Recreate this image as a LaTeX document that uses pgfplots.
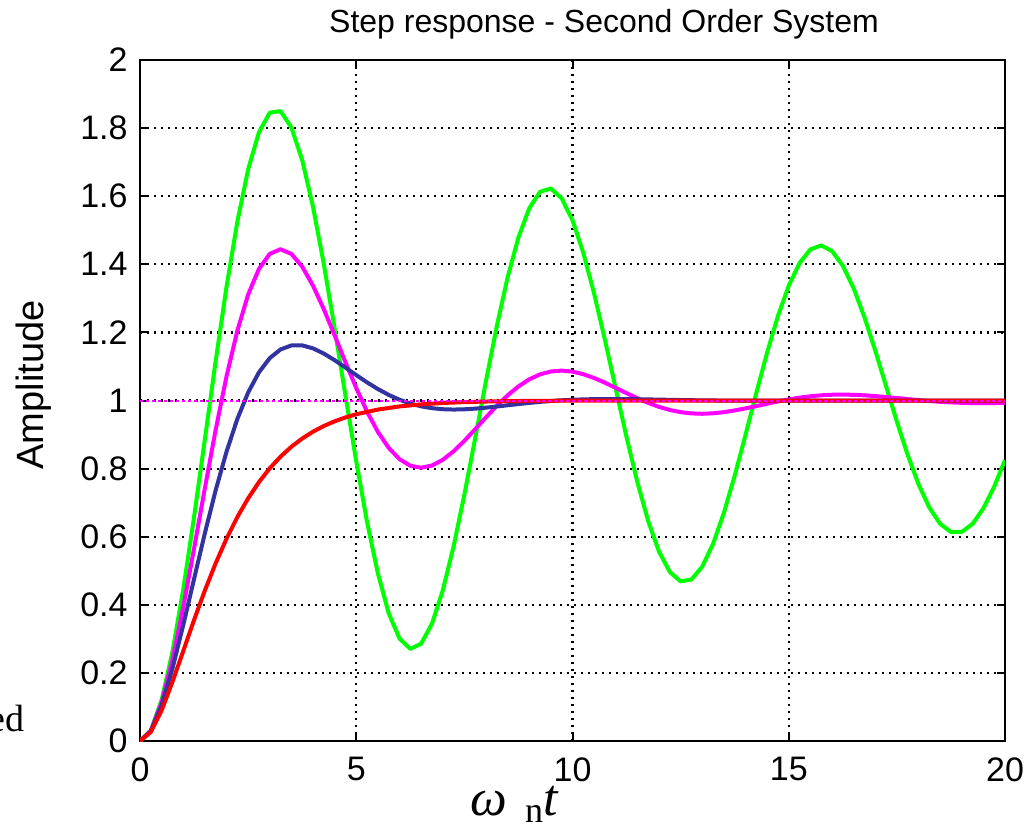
\documentclass[border=0pt]{standalone}
\usepackage{pgfplots}
\pgfplotsset{compat=1.18}
\usepackage{fontspec}
\setmainfont{Liberation Sans}
\newfontfamily\seriffont{Liberation Serif}
\definecolor{mgreen}{RGB}{0,255,0}
\definecolor{mmag}{RGB}{255,0,255}
\definecolor{mblue}{RGB}{50,50,160}
\definecolor{mred}{RGB}{255,0,0}
\begin{document}
\begin{tikzpicture}
\path[use as bounding box] (0pt,0pt) rectangle (516pt,413pt);
\begin{axis}[
  at={(70pt,42.5pt)}, anchor=south west,
  scale only axis, width=432.5pt, height=340.5pt,
  xmin=0, xmax=20, ymin=0, ymax=2,
  xtick={0,5,10,15,20},
  ytick={0,0.2,0.4,0.6,0.8,1,1.2,1.4,1.6,1.8,2},
  grid=major,
  major grid style={black, line width=1.1pt, dash pattern=on 1.1pt off 2.4pt},
  axis line style={black, line width=1.2pt},
  tick style={black, line width=1pt},
  tick align=inside, major tick length=4pt,
  ticklabel style={font=\fontsize{17}{20}\selectfont},
  /pgf/number format/assume math mode=true,
  yticklabel style={inner sep=0pt, xshift=-6pt},
  xticklabel style={inner sep=0pt, yshift=-8pt},
  every axis plot/.append style={line width=2pt, line join=round},
]
\addplot[mgreen] coordinates {(0,0) (0.25,0.0308) (0.5,0.1204) (0.75,0.2618) (1,0.4450) (1.25,0.6578) (1.5,0.8863) (1.75,1.1162) (2,1.3332) (2.25,1.5245) (2.5,1.6788) (2.75,1.7876) (3,1.8454) (3.25,1.8498) (3.5,1.8020) (3.75,1.7061) (4,1.5691) (4.25,1.4007) (4.5,1.2117) (4.75,1.0145) (5,0.8212) (5.25,0.6431) (5.5,0.4924) (5.75,0.3754) (6,0.3009) (6.25,0.2705) (6.5,0.2857) (6.75,0.3443) (7,0.4418) (7.25,0.5711) (7.5,0.7236) (7.75,0.8892) (8,1.0576) (8.25,1.2183) (8.5,1.3618) (8.75,1.4792) (9,1.5645) (9.25,1.6130) (9.5,1.6226) (9.75,1.5938) (10,1.5292) (10.25,1.4337) (10.5,1.3140) (10.75,1.1779) (11,1.0343) (11.25,0.8921) (11.5,0.7600) (11.75,0.6460) (12,0.5564) (12.25,0.4964) (12.5,0.4687) (12.75,0.4744) (13,0.5122) (13.25,0.5790) (13.5,0.6700) (13.75,0.7790) (14,0.8989) (14.25,1.0221) (14.5,1.1408) (14.75,1.2480) (15,1.3372) (15.25,1.4037) (15.5,1.4437) (15.75,1.4554) (16,1.4389) (16.25,1.3958) (16.5,1.3295) (16.75,1.2446) (17,1.1468) (17.25,1.0423) (17.5,0.9379) (17.75,0.8399) (18,0.7541) (18.25,0.6855) (18.5,0.6379) (18.75,0.6138) (19,0.6139) (19.25,0.6378) (19.5,0.6833) (19.75,0.7471) (20,0.8249)};
\addplot[mmag] coordinates {(0,0) (0.25,0.0298) (0.5,0.1129) (0.75,0.2380) (1,0.3929) (1.25,0.5652) (1.5,0.7426) (1.75,0.9142) (2,1.0706) (2.25,1.2046) (2.5,1.3109) (2.75,1.3864) (3,1.4306) (3.25,1.4443) (3.5,1.4305) (3.75,1.3932) (4,1.3372) (4.25,1.2682) (4.5,1.1915) (4.75,1.1127) (5,1.0366) (5.25,0.9672) (5.5,0.9079) (5.75,0.8610) (6,0.8277) (6.25,0.8084) (6.5,0.8026) (6.75,0.8090) (7,0.8258) (7.25,0.8508) (7.5,0.8816) (7.75,0.9157) (8,0.9507) (8.25,0.9845) (8.5,1.0152) (8.75,1.0414) (9,1.0622) (9.25,1.0768) (9.5,1.0852) (9.75,1.0877) (10,1.0848) (10.25,1.0772) (10.5,1.0660) (10.75,1.0523) (11,1.0371) (11.25,1.0216) (11.5,1.0066) (11.75,0.9930) (12,0.9814) (12.25,0.9722) (12.5,0.9658) (12.75,0.9621) (13,0.9610) (13.25,0.9624) (13.5,0.9658) (13.75,0.9708) (14,0.9769) (14.25,0.9836) (14.5,0.9906) (14.75,0.9972) (15,1.0032) (15.25,1.0084) (15.5,1.0124) (15.75,1.0153) (16,1.0169) (16.25,1.0173) (16.5,1.0167) (16.75,1.0152) (17,1.0129) (17.25,1.0102) (17.5,1.0072) (17.75,1.0041) (18,1.0012) (18.25,0.9985) (18.5,0.9962) (18.75,0.9944) (19,0.9932) (19.25,0.9925) (19.5,0.9923) (19.75,0.9926) (20,0.9933)};
\addplot[mblue] coordinates {(0,0) (0.25,0.0287) (0.5,0.1044) (0.75,0.2127) (1,0.3403) (1.25,0.4760) (1.5,0.6105) (1.75,0.7367) (2,0.8494) (2.25,0.9455) (2.5,1.0234) (2.75,1.0827) (3,1.1245) (3.25,1.1500) (3.5,1.1617) (3.75,1.1619) (4,1.1531) (4.25,1.1379) (4.5,1.1184) (4.75,1.0968) (5,1.0746) (5.25,1.0532) (5.5,1.0336) (5.75,1.0165) (6,1.0023) (6.25,0.9911) (6.5,0.9828) (6.75,0.9774) (7,0.9744) (7.25,0.9734) (7.5,0.9742) (7.75,0.9761) (8,0.9790) (8.25,0.9824) (8.5,0.9860) (8.75,0.9896) (9,0.9929) (9.25,0.9959) (9.5,0.9985) (9.75,1.0006) (10,1.0022) (10.25,1.0033) (10.5,1.0040) (10.75,1.0043) (11,1.0043) (11.25,1.0041) (11.5,1.0037) (11.75,1.0032) (12,1.0026) (12.5,1.0014) (13,1.0004) (13.5,0.9998) (14,0.9994) (14.5,0.9993) (15,0.9994) (16,0.9999) (17,1.0000) (18,1.0000) (19,1.0000) (20,1.0000)};
\addplot[mred] coordinates {(0,0) (0.25,0.0265) (0.5,0.0902) (0.75,0.1734) (1,0.2642) (1.25,0.3554) (1.5,0.4422) (1.75,0.5221) (2,0.5940) (2.25,0.6575) (2.5,0.7127) (2.75,0.7603) (3,0.8009) (3.25,0.8352) (3.5,0.8641) (3.75,0.8883) (4,0.9084) (4.25,0.9251) (4.5,0.9389) (4.75,0.9503) (5,0.9596) (5.5,0.9734) (6,0.9826) (6.5,0.9887) (7,0.9927) (7.5,0.9953) (8,0.9970) (8.5,0.9981) (9,0.9988) (9.5,0.9992) (10,0.9995) (11,0.9998) (12,0.9999) (13,1.0000) (20,1.0000)};
\addplot[mmag, line width=1pt, dash pattern=on 1.5pt off 1.5pt] coordinates {(0,1) (20,1)};
\end{axis}
\node[anchor=base, font=\fontsize{16}{19}\selectfont] at (302pt,396.5pt) {Step response - Second Order System};
\node[rotate=90, font=\fontsize{19}{22}\selectfont] at (17pt,220.5pt) {Amplitude};
\node[anchor=base east, inner sep=0pt, font=\seriffont\fontsize{19}{23}\selectfont] at (12.5pt,47.5pt) {ed};
\node[anchor=base west, inner sep=0pt] at (235pt,5.5pt) {\seriffont\fontsize{26}{30}\selectfont\itshape ω\hspace{9pt}{\upshape\fontsize{18}{20}\selectfont\raisebox{-3.8pt}{n}}t};
\end{tikzpicture}
\end{document}
